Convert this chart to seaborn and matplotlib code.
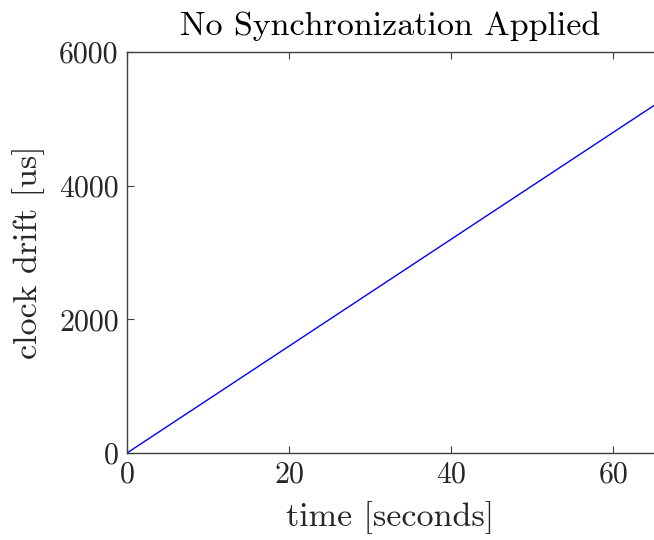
import matplotlib
matplotlib.use("Agg")
import matplotlib.pyplot as plt
import seaborn as sns
import pandas as pd

# Accumulated clock drift with no synchronization
time_s = [0, 65]
drift_us = [0, 5200]
x_ticks = [0, 20, 40, 60]
y_ticks = [0, 2000, 4000, 6000]

sns.set_theme(style="white")
plt.rcParams["font.family"] = ["cmr10", "DejaVu Serif"]
plt.rcParams["mathtext.fontset"] = "cm"
plt.rcParams["axes.formatter.use_mathtext"] = True

df = pd.DataFrame({"time": time_s, "drift": drift_us})

fig = plt.figure(figsize=(6.54, 5.40), dpi=100)
ax = fig.add_axes([127 / 654, 1 - 453 / 540, 1 - 127 / 654, (453 - 52) / 540])

sns.lineplot(data=df, x="time", y="drift", ax=ax, color=(0, 0, 1), linewidth=1.0)

ax.set_xlim(0, 65)
ax.set_ylim(0, 6000)
ax.set_xticks(x_ticks)
ax.set_yticks(y_ticks)
ax.set_xticklabels([str(v) for v in x_ticks])
ax.set_yticklabels([str(v) for v in y_ticks])

edge = "#404040"
for side in ["left", "bottom", "top"]:
    ax.spines[side].set_visible(True)
    ax.spines[side].set_color(edge)
    ax.spines[side].set_linewidth(1.0)
ax.spines["right"].set_visible(False)

ax.tick_params(axis="both", which="major", direction="in", length=5, width=0.8,
               color=edge, labelsize=21.5, labelcolor="#262626", pad=6,
               top=True, bottom=True, left=True, right=False)

ax.set_xlabel("time [seconds]", fontsize=24.5, color="#262626", labelpad=9)
ax.set_ylabel("clock drift [us]", fontsize=24.5, color="#262626", labelpad=10)
ax.set_title("No Synchronization Applied", fontsize=24.5, color="black", pad=12)

fig.savefig("out.png", dpi=100)
